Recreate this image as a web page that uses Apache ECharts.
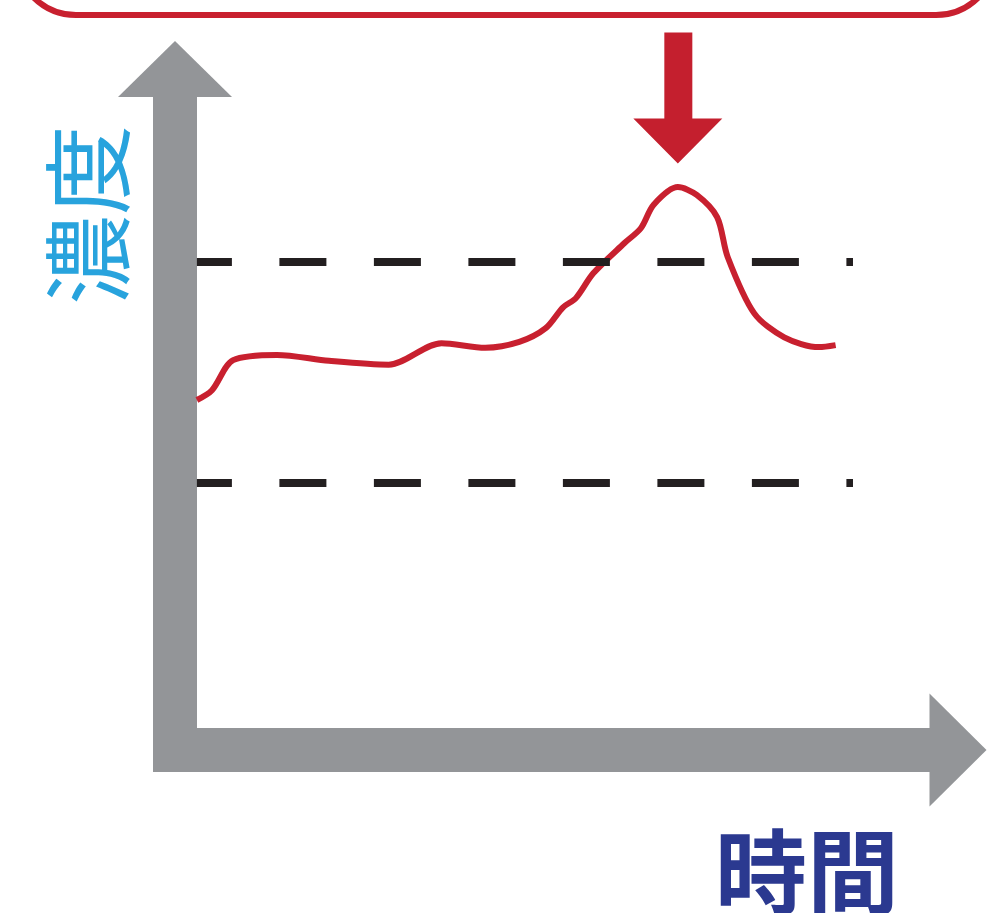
<!DOCTYPE html>
<html>
<head>
<meta charset="utf-8">
<script type="text/javascript" src="https://cdn.jsdelivr.net/npm/echarts@6.0.0/dist/echarts.min.js"></script>
<style type="text/css">
  html, body { margin: 0; padding: 0; background: #fff; }
  #main { width: 994px; height: 913px; }
</style>
</head>
<body>
<div id="main"></div>
<script type="text/javascript">
  // 時間 / 濃度 の曲線データ (0-100 の相対値)
  var timeValues = [2.9, 4.9, 7.7, 13.5, 20.4, 28.3, 35.3, 41.1, 45.6, 49.1, 51.4, 53.1,
                    55.4, 59.5, 61.7, 63.4, 66.6, 69.1, 71.8, 73.2, 76.7, 80.7, 85.3, 87.5];
  var concentration = [53.6, 55.1, 59.7, 60.5, 59.6, 59.0, 62.3, 61.6, 62.5, 64.6, 67.8, 69.2,
                       73.0, 77.6, 79.9, 83.5, 86.2, 85.0, 81.6, 75.5, 66.9, 63.2, 61.7, 62.0];
  // 基準線 (上限・下限) とその範囲
  var thresholds = [74.7, 41.0];
  var thresholdFrom = 2.9;
  var thresholdTo = 89.8;
  var xLabel = '時間';
  var yLabel = '濃度';

  var myChart = echarts.init(document.getElementById('main'));

  var points = timeValues.map(function (t, i) { return [t, concentration[i]]; });
  var limitLines = thresholds.map(function (v) {
    return [{ coord: [thresholdFrom, v] }, { coord: [thresholdTo, v] }];
  });

  var axisLineStyle = {
    color: '#939598',
    width: 44,
    cap: 'square'
  };

  var option = {
    animation: false,
    grid: { left: 175, right: 64, top: 97, bottom: 163 },
    xAxis: {
      type: 'value',
      min: 0,
      max: 100,
      axisLine: {
        show: true,
        lineStyle: axisLineStyle,
        symbol: ['none', 'triangle'],
        symbolSize: [113, 57],
        symbolOffset: [0, 28]
      },
      axisTick: { show: false },
      axisLabel: { show: false },
      splitLine: { show: false }
    },
    yAxis: {
      type: 'value',
      min: 0,
      max: 100,
      axisLine: {
        show: true,
        lineStyle: axisLineStyle,
        symbol: ['none', 'triangle'],
        symbolSize: [114, 56],
        symbolOffset: [0, 28]
      },
      axisTick: { show: false },
      axisLabel: { show: false },
      splitLine: { show: false }
    },
    graphic: [
      {
        type: 'rect',
        shape: { x: 16, y: -300, width: 980, height: 315, r: 60 },
        style: { fill: 'none', stroke: '#c8202f', lineWidth: 6 }
      },
      {
        type: 'text',
        x: 88,
        y: 215,
        rotation: Math.PI / 2,
        style: {
          text: yLabel,
          fill: '#28a3dd',
          font: 'normal 90px "Noto Sans CJK JP"',
          textAlign: 'center',
          textVerticalAlign: 'middle'
        }
      },
      {
        type: 'text',
        x: 807,
        y: 826,
        style: {
          text: xLabel,
          fill: '#2b3990',
          font: 'bold 92px "Noto Sans CJK JP"',
          textAlign: 'center',
          textVerticalAlign: 'top'
        }
      }
    ],
    series: [
      {
        type: 'line',
        data: points,
        smooth: 0.3,
        showSymbol: false,
        silent: true,
        lineStyle: { color: '#c8202f', width: 6 },
        markLine: {
          silent: true,
          symbol: ['none', 'none'],
          label: { show: false },
          lineStyle: { color: '#231f20', width: 8, type: [47, 47.5], dashOffset: 12 },
          emphasis: { disabled: true },
          data: limitLines
        },
        markPoint: {
          silent: true,
          symbol: 'path://M31,0 L59,0 L59,86 L89,86 L44.5,131 L0,86 L31,86 Z',
          symbolSize: [89, 131],
          symbolOffset: [0, -89],
          itemStyle: { color: '#c41f2e' },
          label: { show: false },
          data: [{ type: 'max' }]
        }
      }
    ]
  };

  myChart.setOption(option);
</script>
</body>
</html>
